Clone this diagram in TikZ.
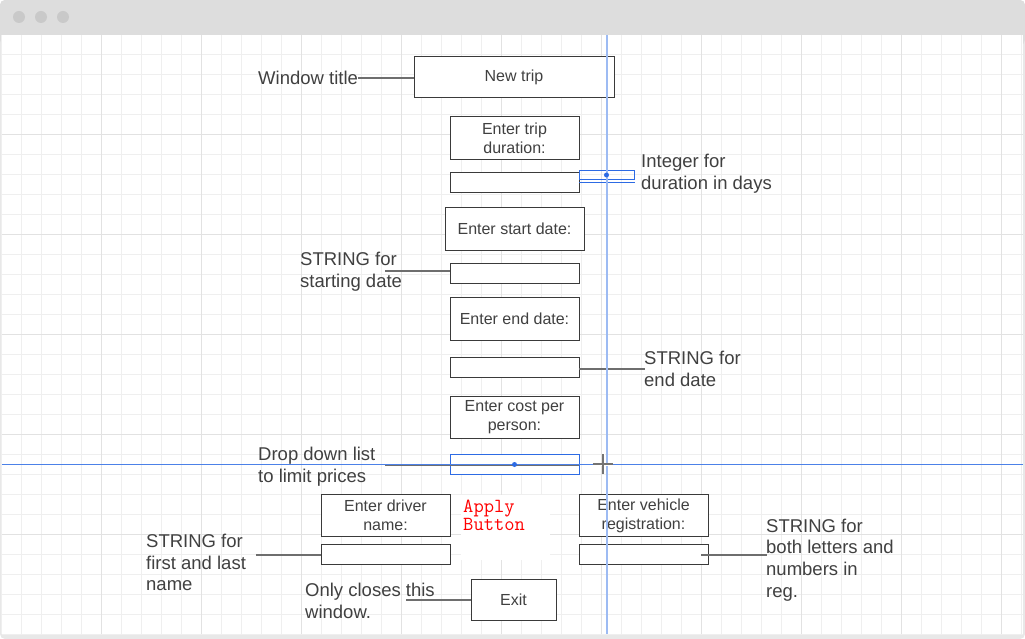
\documentclass[tikz,border=0pt]{standalone}
\usepackage{fontspec}
\setmainfont{Liberation Sans}
\usetikzlibrary{positioning}
\definecolor{boxline}{HTML}{3A3A3A}
\definecolor{textgray}{HTML}{404040}
\definecolor{linkgray}{HTML}{6E6E6E}
\definecolor{pickblue}{HTML}{2D6BE4}
\definecolor{guideblue}{HTML}{9DBBF3}
\definecolor{gridminor}{HTML}{EFEFEF}
\definecolor{gridmajor}{HTML}{E2E2E2}
\definecolor{barfill}{HTML}{DDDDDD}
\definecolor{dotfill}{HTML}{C9C9C9}
\newcommand{\boxfont}{\fontsize{16bp}{19.2bp}\selectfont}
\newcommand{\notefont}{\fontsize{18.5bp}{21.6bp}\selectfont}
\newcommand{\applyfont}{\ttfamily\fontsize{20bp}{17.5bp}\selectfont}
\tikzset{
  formbox/.style={rectangle, draw=boxline, fill=white, line width=1bp, outer sep=0pt, font=\boxfont, text=textgray, align=center, inner sep=1bp, minimum width=129bp},
  promptbox/.style={formbox, minimum height=43bp},
  fieldbox/.style={formbox, minimum height=20bp},
  note/.style={font=\notefont, text=textgray, align=left, inner sep=0pt, anchor=west},
  link/.style={draw=linkgray, line width=1.5bp},
  picked/.style={draw=pickblue},
  pickdot/.style={circle, fill=pickblue, inner sep=0pt, minimum size=5bp},
  guide/.style={draw=guideblue, line width=2bp},
  hguide/.style={draw=pickblue!85, line width=0.8bp},
}

\begin{document}
\begin{tikzpicture}[x=1bp, y=-1bp]
  \useasboundingbox (0,0) rectangle (1025,639);
  % window frame and grid
  \fill[black!9, rounded corners=5bp] (0,0) rectangle (1025,639);
  \fill[barfill, rounded corners=5bp] (0,0) rectangle (1025,45);
  \fill[white] (2,35) rectangle (1023,634);
  \foreach \x in {19,41,63} \fill[dotfill] (\x,17) circle[radius=6bp];
  \foreach \gx in {1.7,21.7,...,1021.7} \draw[gridminor, line width=1bp] (\gx,35) -- (\gx,634);
  \foreach \gy in {54.3,74.3,...,634.3} \draw[gridminor, line width=1bp] (2,\gy) -- (1023,\gy);
  \foreach \gx in {101.7,201.7,...,1001.7} \draw[gridmajor, line width=1bp] (\gx,35) -- (\gx,634);
  \foreach \gy in {134.3,234.3,...,534.3} \draw[gridmajor, line width=1bp] (2,\gy) -- (1023,\gy);

  % form column
  \node[formbox, minimum width=200bp, minimum height=41bp] (title) at (514,77) {New trip};
  \node[promptbox] (durprompt) [below=19bp of title, xshift=0.5bp] {Enter trip\\duration:};
  \node[fieldbox] (durfield) [below=13bp of durprompt] {};
  \node[promptbox, minimum width=139bp] (startprompt) [below=15bp of durfield] {Enter start date:};
  \node[fieldbox] (startfield) [below=13bp of startprompt] {};
  \node[promptbox] (endprompt) [below=14bp of startfield] {Enter end date:};
  \node[fieldbox] (endfield) [below=17bp of endprompt] {};
  \node[promptbox, minimum height=42bp] (costprompt) [below=19bp of endfield] {Enter cost per\\person:};
  \node[fieldbox, picked] (costfield) [below=16bp of costprompt] {};
  \node[promptbox, minimum height=42bp] (driverprompt) [below=20bp of costfield, xshift=-129bp] {Enter driver\\name:};
  \node[fieldbox] (driverfield) [below=8bp of driverprompt] {};
  \node[promptbox, minimum height=42bp] (vehprompt) [below=20bp of costfield, xshift=129bp] {Enter vehicle\\registration:};
  \node[fieldbox] (vehfield) [below=8bp of vehprompt] {};
  \node[formbox, minimum width=85bp, minimum height=41bp] (exit) [below=105bp of costfield, xshift=-1bp] {Exit};

  \fill[white] (461,495) rectangle (550,560);
  \node[font=\applyfont, text=red, align=left, inner sep=0pt, anchor=north west] (apply) at (463,500) {Apply\\Button};

  % notes
  \node[note] (titlenote) at (258,78) {Window title};
  \node[note] (durnote) at (641,173.5) {Integer for\\duration in days};
  \node[note] (startnote) at (300,272) {STRING for\\starting date};
  \node[note] (endnote) at (644,369) {STRING for\\end date};
  \node[note] (costnote) at (258,467) {Drop down list\\to limit prices};
  \node[note] (drivernote) at (146,562.5) {STRING for\\first and last\\name};
  \node[note] (vehnote) at (766,560) {STRING for\\both letters and\\numbers in\\reg.};
  \node[note] (exitnote) at (305,601) {Only closes this\\window.};

  \coordinate (startend) at (385,271);
  \coordinate (endend) at (645,369);
  \coordinate (costend) at (385,465);
  \coordinate (driverend) at (256,555);
  \coordinate (vehend) at (767,555);
  \coordinate (vehstart) at ([xshift=-7bp]vehfield.east);
  \coordinate (exitend) at (406,600);

  \draw[link] (titlenote.east) -- (titlenote.east -| title.west);
  \draw[link] (startend) -- (startend -| startfield.west);
  \draw[link] (endend -| endfield.east) -- (endend);
  \draw[link] (costend) -- (costend -| costfield.east);
  \draw[link] (driverend) -- (driverend -| driverfield.west);
  \draw[link] (vehend -| vehstart) -- (vehend);
  \draw[link] (exitend) -- (exitend -| exit.west);

  % selection marks
  \node[draw=pickblue, line width=1bp, minimum width=55bp, minimum height=9bp, inner sep=0pt] (durpick) at (606.5,175) {};
  \draw[pickblue, line width=1.5bp] (durfield.east) -- (durfield.east -| durpick.east);
  \draw[guide] (607,35) -- (607,634);
  \draw[hguide] (2,464) -- (1023,464);
  \node[pickdot] (durdot) at (durpick.center) {};
  \node[pickdot] (costdot) at (costfield.center) {};
  \draw[black!55, line width=1.2bp, preaction={draw=white, line width=3bp}] (593,464) -- (613,464) (603,454) -- (603,474);
\end{tikzpicture}
\end{document}
